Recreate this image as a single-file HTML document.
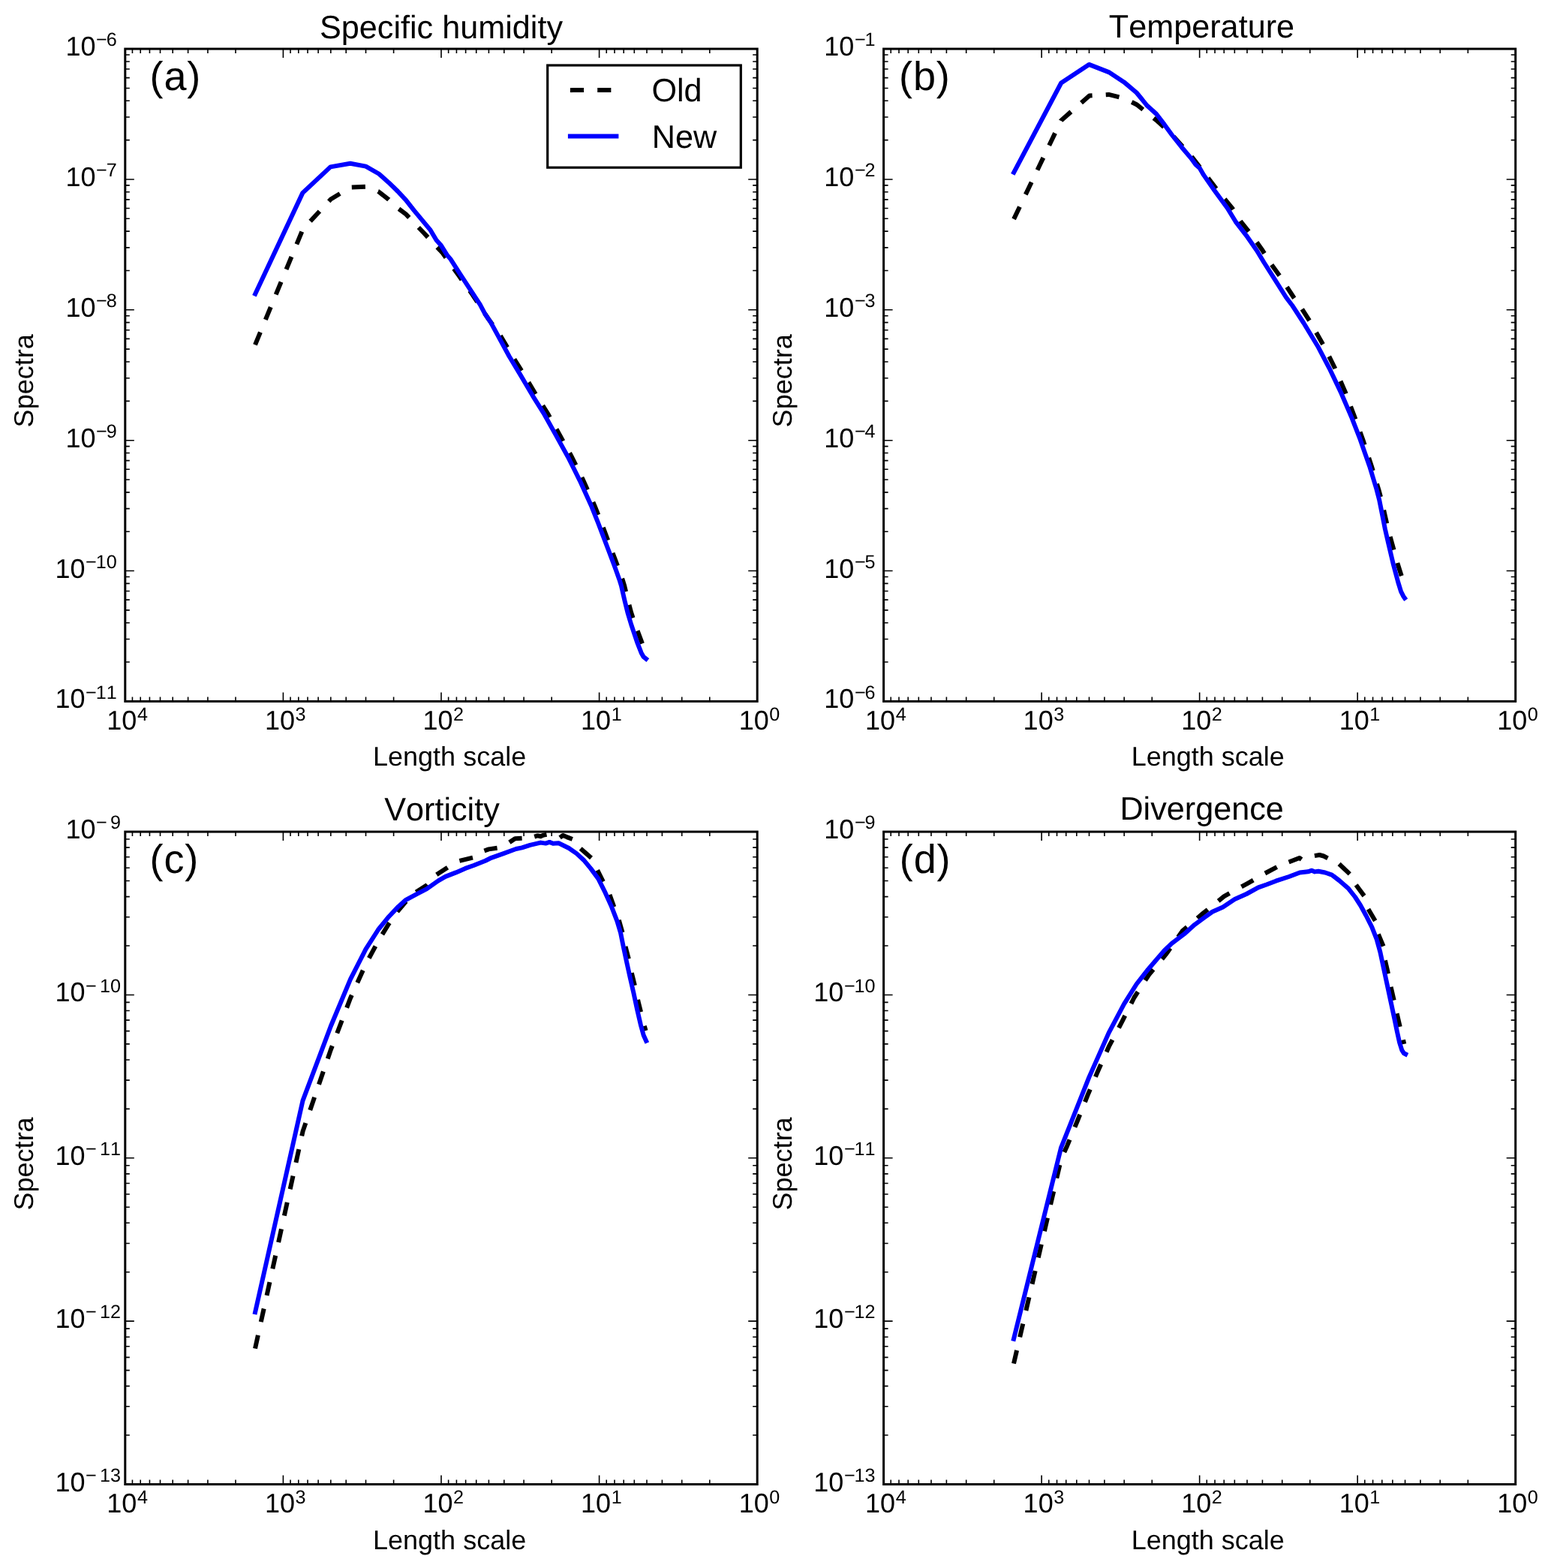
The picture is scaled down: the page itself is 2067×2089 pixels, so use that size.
<!DOCTYPE html>
<html lang="en"><head><meta charset="utf-8"><title>Spectra</title>
<style>html,body{margin:0;padding:0;background:#fff}svg{display:block}text{font-kerning:none;font-variant-ligatures:none;text-rendering:geometricPrecision}</style></head><body>
<svg xmlns="http://www.w3.org/2000/svg" width="2067" height="2089" viewBox="0 0 2067 2089">
<rect width="2067" height="2089" fill="#fff"/>
<g id="panel-a">
<clipPath id="clip-a"><rect x="166.8" y="65.1" width="842.4" height="869.3"/></clipPath>
<g clip-path="url(#clip-a)" fill="none" stroke-linejoin="round">
<g stroke="#000" stroke-width="6" stroke-linecap="butt">
<path d="M340 459.3 L403.6 305.5 L440.7 265.5 L467 249.5 L487.4 248.7 L504.1 255 L518 265.8 L530.2 277.3 L541 285.4 L564.3 309.8 L589.6 336.8 L610.3 365.5 L625.95 387.34" stroke-dasharray="18.112 18.112"/>
<path d="M625.95 387.34 L630 393 L651 425 L666.4 446.4 L683 474.5 L699.1 500.4 L715 527.1 L730.7 552.2 L746.4 580.4 L762 608.7 L777.4 640.1 L792.8 674.6 L801.7 697.1 L814 730 L823.5 755.1 L829.7 772.4 L832.1 780.2 L837 800.6 L841.2 816.3 L846.4 832 L855.3 855.6 L859.8 866 L862 869" stroke-dasharray="18.15 18.15"/>
</g>
<path d="M340.2 391.5 L403.4 256.9 L440.4 222.4 L466.8 217.7 L487.5 221.6 L504.8 231.5 L518 243.2 L530.2 255 L541 266.6 L551.8 280.4 L573.7 306.7 L581.6 320 L587.9 327.1 L595.7 339.7 L600.4 345.1 L613 364.8 L639.7 405.6 L646.7 418.9 L653.8 429.1 L663.2 446.4 L678.5 474.5 L694.1 500.4 L709.8 527.1 L725.5 552.2 L741.2 580.4 L756.9 608.7 L772.6 640.1 L788.3 674.6 L797.3 697.1 L809.8 730 L819.3 755.1 L825.5 772.4 L827.9 780.2 L832.6 800.6 L836.5 816.3 L841.2 832 L849.1 855.6 L854.6 869.7 L857.7 875.2 L861 877.8" stroke="#0000ff" stroke-width="6" stroke-linecap="square"/>
</g>
<path d="M314 934.4L314 928.4M314 65.1L314 71.1M276.92 934.4L276.92 928.4M276.92 65.1L276.92 71.1M250.61 934.4L250.61 928.4M250.61 65.1L250.61 71.1M230.2 934.4L230.2 928.4M230.2 65.1L230.2 71.1M213.52 934.4L213.52 928.4M213.52 65.1L213.52 71.1M199.42 934.4L199.42 928.4M199.42 65.1L199.42 71.1M187.21 934.4L187.21 928.4M187.21 65.1L187.21 71.1M176.44 934.4L176.44 928.4M176.44 65.1L176.44 71.1M377.4 934.4L377.4 922.4M377.4 65.1L377.4 77.1M524.6 934.4L524.6 928.4M524.6 65.1L524.6 71.1M487.52 934.4L487.52 928.4M487.52 65.1L487.52 71.1M461.21 934.4L461.21 928.4M461.21 65.1L461.21 71.1M440.8 934.4L440.8 928.4M440.8 65.1L440.8 71.1M424.12 934.4L424.12 928.4M424.12 65.1L424.12 71.1M410.02 934.4L410.02 928.4M410.02 65.1L410.02 71.1M397.81 934.4L397.81 928.4M397.81 65.1L397.81 71.1M387.04 934.4L387.04 928.4M387.04 65.1L387.04 71.1M588 934.4L588 922.4M588 65.1L588 77.1M735.2 934.4L735.2 928.4M735.2 65.1L735.2 71.1M698.12 934.4L698.12 928.4M698.12 65.1L698.12 71.1M671.81 934.4L671.81 928.4M671.81 65.1L671.81 71.1M651.4 934.4L651.4 928.4M651.4 65.1L651.4 71.1M634.72 934.4L634.72 928.4M634.72 65.1L634.72 71.1M620.62 934.4L620.62 928.4M620.62 65.1L620.62 71.1M608.41 934.4L608.41 928.4M608.41 65.1L608.41 71.1M597.64 934.4L597.64 928.4M597.64 65.1L597.64 71.1M798.6 934.4L798.6 922.4M798.6 65.1L798.6 77.1M945.8 934.4L945.8 928.4M945.8 65.1L945.8 71.1M908.72 934.4L908.72 928.4M908.72 65.1L908.72 71.1M882.41 934.4L882.41 928.4M882.41 65.1L882.41 71.1M862 934.4L862 928.4M862 65.1L862 71.1M845.32 934.4L845.32 928.4M845.32 65.1L845.32 71.1M831.22 934.4L831.22 928.4M831.22 65.1L831.22 71.1M819.01 934.4L819.01 928.4M819.01 65.1L819.01 71.1M808.24 934.4L808.24 928.4M808.24 65.1L808.24 71.1M166.8 186.62L172.8 186.62M1009.2 186.62L1003.2 186.62M166.8 156.01L172.8 156.01M1009.2 156.01L1003.2 156.01M166.8 134.29L172.8 134.29M1009.2 134.29L1003.2 134.29M166.8 117.44L172.8 117.44M1009.2 117.44L1003.2 117.44M166.8 103.67L172.8 103.67M1009.2 103.67L1003.2 103.67M166.8 92.03L172.8 92.03M1009.2 92.03L1003.2 92.03M166.8 81.95L172.8 81.95M1009.2 81.95L1003.2 81.95M166.8 73.06L172.8 73.06M1009.2 73.06L1003.2 73.06M166.8 238.96L178.8 238.96M1009.2 238.96L997.2 238.96M166.8 360.48L172.8 360.48M1009.2 360.48L1003.2 360.48M166.8 329.87L172.8 329.87M1009.2 329.87L1003.2 329.87M166.8 308.15L172.8 308.15M1009.2 308.15L1003.2 308.15M166.8 291.3L172.8 291.3M1009.2 291.3L1003.2 291.3M166.8 277.53L172.8 277.53M1009.2 277.53L1003.2 277.53M166.8 265.89L172.8 265.89M1009.2 265.89L1003.2 265.89M166.8 255.81L172.8 255.81M1009.2 255.81L1003.2 255.81M166.8 246.92L172.8 246.92M1009.2 246.92L1003.2 246.92M166.8 412.82L178.8 412.82M1009.2 412.82L997.2 412.82M166.8 534.34L172.8 534.34M1009.2 534.34L1003.2 534.34M166.8 503.73L172.8 503.73M1009.2 503.73L1003.2 503.73M166.8 482.01L172.8 482.01M1009.2 482.01L1003.2 482.01M166.8 465.16L172.8 465.16M1009.2 465.16L1003.2 465.16M166.8 451.39L172.8 451.39M1009.2 451.39L1003.2 451.39M166.8 439.75L172.8 439.75M1009.2 439.75L1003.2 439.75M166.8 429.67L172.8 429.67M1009.2 429.67L1003.2 429.67M166.8 420.78L172.8 420.78M1009.2 420.78L1003.2 420.78M166.8 586.68L178.8 586.68M1009.2 586.68L997.2 586.68M166.8 708.2L172.8 708.2M1009.2 708.2L1003.2 708.2M166.8 677.59L172.8 677.59M1009.2 677.59L1003.2 677.59M166.8 655.87L172.8 655.87M1009.2 655.87L1003.2 655.87M166.8 639.02L172.8 639.02M1009.2 639.02L1003.2 639.02M166.8 625.25L172.8 625.25M1009.2 625.25L1003.2 625.25M166.8 613.61L172.8 613.61M1009.2 613.61L1003.2 613.61M166.8 603.53L172.8 603.53M1009.2 603.53L1003.2 603.53M166.8 594.64L172.8 594.64M1009.2 594.64L1003.2 594.64M166.8 760.54L178.8 760.54M1009.2 760.54L997.2 760.54M166.8 882.06L172.8 882.06M1009.2 882.06L1003.2 882.06M166.8 851.45L172.8 851.45M1009.2 851.45L1003.2 851.45M166.8 829.73L172.8 829.73M1009.2 829.73L1003.2 829.73M166.8 812.88L172.8 812.88M1009.2 812.88L1003.2 812.88M166.8 799.11L172.8 799.11M1009.2 799.11L1003.2 799.11M166.8 787.47L172.8 787.47M1009.2 787.47L1003.2 787.47M166.8 777.39L172.8 777.39M1009.2 777.39L1003.2 777.39M166.8 768.5L172.8 768.5M1009.2 768.5L1003.2 768.5" stroke="#000" stroke-width="1.6" fill="none"/>
<rect x="166.8" y="65.1" width="842.4" height="869.3" fill="none" stroke="#000" stroke-width="3"/>
<g font-family="Liberation Sans, Arial, Helvetica, sans-serif" fill="#000">
<text x="127.6" y="74.1" font-size="36" text-anchor="end">10</text>
<text x="128.1" y="61.3" font-size="25.2">−</text>
<text x="141.8" y="61.3" font-size="25.2">6</text>
<text x="127.6" y="247.96" font-size="36" text-anchor="end">10</text>
<text x="128.1" y="235.16" font-size="25.2">−</text>
<text x="141.8" y="235.16" font-size="25.2">7</text>
<text x="127.6" y="421.82" font-size="36" text-anchor="end">10</text>
<text x="128.1" y="409.02" font-size="25.2">−</text>
<text x="141.8" y="409.02" font-size="25.2">8</text>
<text x="127.6" y="595.68" font-size="36" text-anchor="end">10</text>
<text x="128.1" y="582.88" font-size="25.2">−</text>
<text x="141.8" y="582.88" font-size="25.2">9</text>
<text x="113.59" y="769.54" font-size="36" text-anchor="end">10</text>
<text x="114.09" y="756.74" font-size="25.2">−</text>
<text x="127.79" y="756.74" font-size="25.2">10</text>
<text x="113.59" y="943.4" font-size="36" text-anchor="end">10</text>
<text x="114.09" y="930.6" font-size="25.2">−</text>
<text x="127.79" y="930.6" font-size="25.2">11</text>
<text x="142.3" y="972.1" font-size="36">10</text>
<text x="182.9" y="959.5" font-size="25.2">4</text>
<text x="352.9" y="972.1" font-size="36">10</text>
<text x="393.5" y="959.5" font-size="25.2">3</text>
<text x="563.5" y="972.1" font-size="36">10</text>
<text x="604.1" y="959.5" font-size="25.2">2</text>
<text x="774.1" y="972.1" font-size="36">10</text>
<text x="814.7" y="959.5" font-size="25.2">1</text>
<text x="984.7" y="972.1" font-size="36">10</text>
<text x="1025.3" y="959.5" font-size="25.2">0</text>
<text x="599.1" y="1020.4" font-size="36" text-anchor="middle">Length scale</text>
<text transform="translate(44.1 507.35) rotate(-90)" font-size="36" text-anchor="middle">Spectra</text>
<text x="588" y="50.6" font-size="43.2" text-anchor="middle">Specific humidity</text>
<text x="199.5" y="120.4" font-size="54" letter-spacing="0.9">(a)</text>
</g>
</g>
<g id="panel-b">
<clipPath id="clip-b"><rect x="1177.6" y="65.1" width="842.1" height="869.3"/></clipPath>
<g clip-path="url(#clip-b)" fill="none" stroke-linejoin="round">
<g stroke="#000" stroke-width="6" stroke-linecap="butt">
<path d="M1351.1 291.9 L1414.2 160.4 L1451.8 127.5 L1477.6 125.9 L1498 130.9 L1514.7 139.2 L1528.8 150.4 L1541 160.1 L1551.8 169.9 L1564.01 182.02" stroke-dasharray="18.15 18.15"/>
<path d="M1564.01 182.02 L1565 183 L1590 211 L1605 230.5 L1623.6 255 L1642.2 277.3 L1653.7 295.3 L1669.9 315.7 L1682.7 333.8 L1692.4 349.5 L1706.5 369.1 L1724.3 396.5 L1732 406.7 L1735.29 411.88" stroke-dasharray="17.944 17.944"/>
<path d="M1735.29 411.88 L1746.7 429.8 L1764.5 461.2 L1779.3 491 L1793.5 524 L1805.8 556.9 L1816.1 585.2 L1827.9 621.2 L1837.4 652.6 L1841 665.7 L1846.3 689.2 L1849.9 704.9 L1855.5 725.3 L1862.9 752 L1868 768 L1872.5 780" stroke-dasharray="18.15 18.15"/>
</g>
<path d="M1351.2 229.7 L1414.2 110.5 L1451.3 85.9 L1477.6 96.1 L1498 109.4 L1514.7 123.5 L1528.8 140.8 L1541 151.8 L1551.8 165.9 L1562 180 L1574.5 195.7 L1587.1 210.6 L1593.4 219.2 L1598.8 223.9 L1604.3 233.4 L1618.5 253.7 L1635.7 277.3 L1646.7 295.3 L1662.4 315.7 L1674.9 333.8 L1684.4 349.5 L1696.9 369.1 L1714.2 396.5 L1722 406.7 L1737.5 430.5 L1756.1 461.2 L1771.8 491 L1787.5 524 L1801.6 556.9 L1812.6 585.2 L1825.2 621.2 L1834.4 651.5 L1838.1 665.7 L1842.8 689.2 L1845.9 704.9 L1850.6 725.3 L1856.9 752 L1863.2 775.5 L1867.1 788.1 L1870.3 794.4 L1872 796.8" stroke="#0000ff" stroke-width="6" stroke-linecap="square"/>
</g>
<path d="M1324.75 934.4L1324.75 928.4M1324.75 65.1L1324.75 71.1M1287.68 934.4L1287.68 928.4M1287.68 65.1L1287.68 71.1M1261.38 934.4L1261.38 928.4M1261.38 65.1L1261.38 71.1M1240.97 934.4L1240.97 928.4M1240.97 65.1L1240.97 71.1M1224.3 934.4L1224.3 928.4M1224.3 65.1L1224.3 71.1M1210.21 934.4L1210.21 928.4M1210.21 65.1L1210.21 71.1M1198 934.4L1198 928.4M1198 65.1L1198 71.1M1187.23 934.4L1187.23 928.4M1187.23 65.1L1187.23 71.1M1388.12 934.4L1388.12 922.4M1388.12 65.1L1388.12 77.1M1535.28 934.4L1535.28 928.4M1535.28 65.1L1535.28 71.1M1498.2 934.4L1498.2 928.4M1498.2 65.1L1498.2 71.1M1471.9 934.4L1471.9 928.4M1471.9 65.1L1471.9 71.1M1451.5 934.4L1451.5 928.4M1451.5 65.1L1451.5 71.1M1434.83 934.4L1434.83 928.4M1434.83 65.1L1434.83 71.1M1420.74 934.4L1420.74 928.4M1420.74 65.1L1420.74 71.1M1408.53 934.4L1408.53 928.4M1408.53 65.1L1408.53 71.1M1397.76 934.4L1397.76 928.4M1397.76 65.1L1397.76 71.1M1598.65 934.4L1598.65 922.4M1598.65 65.1L1598.65 77.1M1745.8 934.4L1745.8 928.4M1745.8 65.1L1745.8 71.1M1708.73 934.4L1708.73 928.4M1708.73 65.1L1708.73 71.1M1682.43 934.4L1682.43 928.4M1682.43 65.1L1682.43 71.1M1662.02 934.4L1662.02 928.4M1662.02 65.1L1662.02 71.1M1645.35 934.4L1645.35 928.4M1645.35 65.1L1645.35 71.1M1631.26 934.4L1631.26 928.4M1631.26 65.1L1631.26 71.1M1619.05 934.4L1619.05 928.4M1619.05 65.1L1619.05 71.1M1608.28 934.4L1608.28 928.4M1608.28 65.1L1608.28 71.1M1809.17 934.4L1809.17 922.4M1809.17 65.1L1809.17 77.1M1956.33 934.4L1956.33 928.4M1956.33 65.1L1956.33 71.1M1919.25 934.4L1919.25 928.4M1919.25 65.1L1919.25 71.1M1892.95 934.4L1892.95 928.4M1892.95 65.1L1892.95 71.1M1872.55 934.4L1872.55 928.4M1872.55 65.1L1872.55 71.1M1855.88 934.4L1855.88 928.4M1855.88 65.1L1855.88 71.1M1841.79 934.4L1841.79 928.4M1841.79 65.1L1841.79 71.1M1829.58 934.4L1829.58 928.4M1829.58 65.1L1829.58 71.1M1818.81 934.4L1818.81 928.4M1818.81 65.1L1818.81 71.1M1177.6 186.62L1183.6 186.62M2019.7 186.62L2013.7 186.62M1177.6 156.01L1183.6 156.01M2019.7 156.01L2013.7 156.01M1177.6 134.29L1183.6 134.29M2019.7 134.29L2013.7 134.29M1177.6 117.44L1183.6 117.44M2019.7 117.44L2013.7 117.44M1177.6 103.67L1183.6 103.67M2019.7 103.67L2013.7 103.67M1177.6 92.03L1183.6 92.03M2019.7 92.03L2013.7 92.03M1177.6 81.95L1183.6 81.95M2019.7 81.95L2013.7 81.95M1177.6 73.06L1183.6 73.06M2019.7 73.06L2013.7 73.06M1177.6 238.96L1189.6 238.96M2019.7 238.96L2007.7 238.96M1177.6 360.48L1183.6 360.48M2019.7 360.48L2013.7 360.48M1177.6 329.87L1183.6 329.87M2019.7 329.87L2013.7 329.87M1177.6 308.15L1183.6 308.15M2019.7 308.15L2013.7 308.15M1177.6 291.3L1183.6 291.3M2019.7 291.3L2013.7 291.3M1177.6 277.53L1183.6 277.53M2019.7 277.53L2013.7 277.53M1177.6 265.89L1183.6 265.89M2019.7 265.89L2013.7 265.89M1177.6 255.81L1183.6 255.81M2019.7 255.81L2013.7 255.81M1177.6 246.92L1183.6 246.92M2019.7 246.92L2013.7 246.92M1177.6 412.82L1189.6 412.82M2019.7 412.82L2007.7 412.82M1177.6 534.34L1183.6 534.34M2019.7 534.34L2013.7 534.34M1177.6 503.73L1183.6 503.73M2019.7 503.73L2013.7 503.73M1177.6 482.01L1183.6 482.01M2019.7 482.01L2013.7 482.01M1177.6 465.16L1183.6 465.16M2019.7 465.16L2013.7 465.16M1177.6 451.39L1183.6 451.39M2019.7 451.39L2013.7 451.39M1177.6 439.75L1183.6 439.75M2019.7 439.75L2013.7 439.75M1177.6 429.67L1183.6 429.67M2019.7 429.67L2013.7 429.67M1177.6 420.78L1183.6 420.78M2019.7 420.78L2013.7 420.78M1177.6 586.68L1189.6 586.68M2019.7 586.68L2007.7 586.68M1177.6 708.2L1183.6 708.2M2019.7 708.2L2013.7 708.2M1177.6 677.59L1183.6 677.59M2019.7 677.59L2013.7 677.59M1177.6 655.87L1183.6 655.87M2019.7 655.87L2013.7 655.87M1177.6 639.02L1183.6 639.02M2019.7 639.02L2013.7 639.02M1177.6 625.25L1183.6 625.25M2019.7 625.25L2013.7 625.25M1177.6 613.61L1183.6 613.61M2019.7 613.61L2013.7 613.61M1177.6 603.53L1183.6 603.53M2019.7 603.53L2013.7 603.53M1177.6 594.64L1183.6 594.64M2019.7 594.64L2013.7 594.64M1177.6 760.54L1189.6 760.54M2019.7 760.54L2007.7 760.54M1177.6 882.06L1183.6 882.06M2019.7 882.06L2013.7 882.06M1177.6 851.45L1183.6 851.45M2019.7 851.45L2013.7 851.45M1177.6 829.73L1183.6 829.73M2019.7 829.73L2013.7 829.73M1177.6 812.88L1183.6 812.88M2019.7 812.88L2013.7 812.88M1177.6 799.11L1183.6 799.11M2019.7 799.11L2013.7 799.11M1177.6 787.47L1183.6 787.47M2019.7 787.47L2013.7 787.47M1177.6 777.39L1183.6 777.39M2019.7 777.39L2013.7 777.39M1177.6 768.5L1183.6 768.5M2019.7 768.5L2013.7 768.5" stroke="#000" stroke-width="1.6" fill="none"/>
<rect x="1177.6" y="65.1" width="842.1" height="869.3" fill="none" stroke="#000" stroke-width="3"/>
<g font-family="Liberation Sans, Arial, Helvetica, sans-serif" fill="#000">
<text x="1138.4" y="74.1" font-size="36" text-anchor="end">10</text>
<text x="1138.9" y="61.3" font-size="25.2">−</text>
<text x="1152.6" y="61.3" font-size="25.2">1</text>
<text x="1138.4" y="247.96" font-size="36" text-anchor="end">10</text>
<text x="1138.9" y="235.16" font-size="25.2">−</text>
<text x="1152.6" y="235.16" font-size="25.2">2</text>
<text x="1138.4" y="421.82" font-size="36" text-anchor="end">10</text>
<text x="1138.9" y="409.02" font-size="25.2">−</text>
<text x="1152.6" y="409.02" font-size="25.2">3</text>
<text x="1138.4" y="595.68" font-size="36" text-anchor="end">10</text>
<text x="1138.9" y="582.88" font-size="25.2">−</text>
<text x="1152.6" y="582.88" font-size="25.2">4</text>
<text x="1138.4" y="769.54" font-size="36" text-anchor="end">10</text>
<text x="1138.9" y="756.74" font-size="25.2">−</text>
<text x="1152.6" y="756.74" font-size="25.2">5</text>
<text x="1138.4" y="943.4" font-size="36" text-anchor="end">10</text>
<text x="1138.9" y="930.6" font-size="25.2">−</text>
<text x="1152.6" y="930.6" font-size="25.2">6</text>
<text x="1153.1" y="972.1" font-size="36">10</text>
<text x="1193.7" y="959.5" font-size="25.2">4</text>
<text x="1363.62" y="972.1" font-size="36">10</text>
<text x="1404.22" y="959.5" font-size="25.2">3</text>
<text x="1574.15" y="972.1" font-size="36">10</text>
<text x="1614.75" y="959.5" font-size="25.2">2</text>
<text x="1784.67" y="972.1" font-size="36">10</text>
<text x="1825.27" y="959.5" font-size="25.2">1</text>
<text x="1995.2" y="972.1" font-size="36">10</text>
<text x="2035.8" y="959.5" font-size="25.2">0</text>
<text x="1609.75" y="1020.4" font-size="36" text-anchor="middle">Length scale</text>
<text transform="translate(1054.9 507.35) rotate(-90)" font-size="36" text-anchor="middle">Spectra</text>
<text x="1601.45" y="50.1" font-size="43.2" text-anchor="middle">Temperature</text>
<text x="1198" y="120.4" font-size="54" letter-spacing="0.9">(b)</text>
</g>
</g>
<g id="panel-c">
<clipPath id="clip-c"><rect x="166.8" y="1108.1" width="842.4" height="869.4"/></clipPath>
<g clip-path="url(#clip-c)" fill="none" stroke-linejoin="round">
<g stroke="#000" stroke-width="6" stroke-linecap="butt">
<path d="M340 1796.6 L403.6 1507.1 L440.7 1398.9 L467 1329.8 L487.4 1284.6 L504.1 1253.7 L518 1231 L530 1214 L545 1196.5 L553.8 1189 L568.5 1179.5 L581.8 1165.3" stroke-dasharray="18.117 18.117"/>
<path d="M581.8 1165.3 L596.5 1155.7"/>
<path d="M612.4 1146.9 L630 1142.7"/>
<path d="M645.4 1133.5 L651.3 1131.4 L662.6 1129.7"/>
<path d="M678.9 1122.2 L686.4 1117.2 L695.6 1116.7"/>
<path d="M712.2 1114.7 L716.5 1113.4 L720.5 1114.3 L724.5 1112.6 L728.5 1111.8"/>
<path d="M746.1 1115.9 L750.3 1113 L755.3 1115.1 L762.8 1118"/>
<path d="M773.7 1130.6 L788 1143.1"/>
<path d="M796.2 1159.3 L803.8 1174.7"/>
<path d="M812.5 1192.1 L818.3 1208.2"/>
<path d="M824.8 1225.8 L829.5 1242.4"/>
<path d="M833.5 1261.1 L837.8 1277.5"/>
<path d="M841.8 1296.1 L845.9 1312.9"/>
<path d="M850 1331.9 L854 1348.3"/>
<path d="M858.7 1366.9 L860.6 1373.1"/>
</g>
<path d="M340.1 1748.2 L403.5 1466.4 L440.7 1367.5 L467 1304.7 L487.4 1264.7 L504.1 1238.5 L518.2 1221.2 L530.8 1207.9 L541 1198.8 L555.9 1190.8 L568.5 1184.4 L584.1 1173.4 L593.6 1167.9 L607.7 1162.4 L620.2 1156.9 L631.2 1153 L646.9 1146.7 L654.8 1142.8 L670.4 1137.3 L687.7 1131 L695.6 1129.4 L706.5 1125.8 L720.5 1122.6 L727.2 1123.6 L732.3 1121.9 L737 1123.8 L744.5 1123.2 L758.2 1130 L768.4 1137.1 L777.8 1145.7 L787.3 1157.1 L797.3 1170.6 L806.7 1189.4 L814.5 1206.7 L822.4 1227.1 L827.1 1242.8 L830.2 1258.5 L834.2 1277.3 L839.7 1302.4 L844.4 1322.8 L849.1 1344.8 L853.8 1365.2 L857.7 1379.3 L861.1 1386.8" stroke="#0000ff" stroke-width="6" stroke-linecap="square"/>
</g>
<path d="M314 1977.5L314 1971.5M314 1108.1L314 1114.1M276.92 1977.5L276.92 1971.5M276.92 1108.1L276.92 1114.1M250.61 1977.5L250.61 1971.5M250.61 1108.1L250.61 1114.1M230.2 1977.5L230.2 1971.5M230.2 1108.1L230.2 1114.1M213.52 1977.5L213.52 1971.5M213.52 1108.1L213.52 1114.1M199.42 1977.5L199.42 1971.5M199.42 1108.1L199.42 1114.1M187.21 1977.5L187.21 1971.5M187.21 1108.1L187.21 1114.1M176.44 1977.5L176.44 1971.5M176.44 1108.1L176.44 1114.1M377.4 1977.5L377.4 1965.5M377.4 1108.1L377.4 1120.1M524.6 1977.5L524.6 1971.5M524.6 1108.1L524.6 1114.1M487.52 1977.5L487.52 1971.5M487.52 1108.1L487.52 1114.1M461.21 1977.5L461.21 1971.5M461.21 1108.1L461.21 1114.1M440.8 1977.5L440.8 1971.5M440.8 1108.1L440.8 1114.1M424.12 1977.5L424.12 1971.5M424.12 1108.1L424.12 1114.1M410.02 1977.5L410.02 1971.5M410.02 1108.1L410.02 1114.1M397.81 1977.5L397.81 1971.5M397.81 1108.1L397.81 1114.1M387.04 1977.5L387.04 1971.5M387.04 1108.1L387.04 1114.1M588 1977.5L588 1965.5M588 1108.1L588 1120.1M735.2 1977.5L735.2 1971.5M735.2 1108.1L735.2 1114.1M698.12 1977.5L698.12 1971.5M698.12 1108.1L698.12 1114.1M671.81 1977.5L671.81 1971.5M671.81 1108.1L671.81 1114.1M651.4 1977.5L651.4 1971.5M651.4 1108.1L651.4 1114.1M634.72 1977.5L634.72 1971.5M634.72 1108.1L634.72 1114.1M620.62 1977.5L620.62 1971.5M620.62 1108.1L620.62 1114.1M608.41 1977.5L608.41 1971.5M608.41 1108.1L608.41 1114.1M597.64 1977.5L597.64 1971.5M597.64 1108.1L597.64 1114.1M798.6 1977.5L798.6 1965.5M798.6 1108.1L798.6 1120.1M945.8 1977.5L945.8 1971.5M945.8 1108.1L945.8 1114.1M908.72 1977.5L908.72 1971.5M908.72 1108.1L908.72 1114.1M882.41 1977.5L882.41 1971.5M882.41 1108.1L882.41 1114.1M862 1977.5L862 1971.5M862 1108.1L862 1114.1M845.32 1977.5L845.32 1971.5M845.32 1108.1L845.32 1114.1M831.22 1977.5L831.22 1971.5M831.22 1108.1L831.22 1114.1M819.01 1977.5L819.01 1971.5M819.01 1108.1L819.01 1114.1M808.24 1977.5L808.24 1971.5M808.24 1108.1L808.24 1114.1M166.8 1260.02L172.8 1260.02M1009.2 1260.02L1003.2 1260.02M166.8 1221.75L172.8 1221.75M1009.2 1221.75L1003.2 1221.75M166.8 1194.59L172.8 1194.59M1009.2 1194.59L1003.2 1194.59M166.8 1173.53L172.8 1173.53M1009.2 1173.53L1003.2 1173.53M166.8 1156.32L172.8 1156.32M1009.2 1156.32L1003.2 1156.32M166.8 1141.77L172.8 1141.77M1009.2 1141.77L1003.2 1141.77M166.8 1129.16L172.8 1129.16M1009.2 1129.16L1003.2 1129.16M166.8 1118.05L172.8 1118.05M1009.2 1118.05L1003.2 1118.05M166.8 1325.45L178.8 1325.45M1009.2 1325.45L997.2 1325.45M166.8 1477.37L172.8 1477.37M1009.2 1477.37L1003.2 1477.37M166.8 1439.1L172.8 1439.1M1009.2 1439.1L1003.2 1439.1M166.8 1411.94L172.8 1411.94M1009.2 1411.94L1003.2 1411.94M166.8 1390.88L172.8 1390.88M1009.2 1390.88L1003.2 1390.88M166.8 1373.67L172.8 1373.67M1009.2 1373.67L1003.2 1373.67M166.8 1359.12L172.8 1359.12M1009.2 1359.12L1003.2 1359.12M166.8 1346.51L172.8 1346.51M1009.2 1346.51L1003.2 1346.51M166.8 1335.4L172.8 1335.4M1009.2 1335.4L1003.2 1335.4M166.8 1542.8L178.8 1542.8M1009.2 1542.8L997.2 1542.8M166.8 1694.72L172.8 1694.72M1009.2 1694.72L1003.2 1694.72M166.8 1656.45L172.8 1656.45M1009.2 1656.45L1003.2 1656.45M166.8 1629.29L172.8 1629.29M1009.2 1629.29L1003.2 1629.29M166.8 1608.23L172.8 1608.23M1009.2 1608.23L1003.2 1608.23M166.8 1591.02L172.8 1591.02M1009.2 1591.02L1003.2 1591.02M166.8 1576.47L172.8 1576.47M1009.2 1576.47L1003.2 1576.47M166.8 1563.86L172.8 1563.86M1009.2 1563.86L1003.2 1563.86M166.8 1552.75L172.8 1552.75M1009.2 1552.75L1003.2 1552.75M166.8 1760.15L178.8 1760.15M1009.2 1760.15L997.2 1760.15M166.8 1912.07L172.8 1912.07M1009.2 1912.07L1003.2 1912.07M166.8 1873.8L172.8 1873.8M1009.2 1873.8L1003.2 1873.8M166.8 1846.64L172.8 1846.64M1009.2 1846.64L1003.2 1846.64M166.8 1825.58L172.8 1825.58M1009.2 1825.58L1003.2 1825.58M166.8 1808.37L172.8 1808.37M1009.2 1808.37L1003.2 1808.37M166.8 1793.82L172.8 1793.82M1009.2 1793.82L1003.2 1793.82M166.8 1781.21L172.8 1781.21M1009.2 1781.21L1003.2 1781.21M166.8 1770.1L172.8 1770.1M1009.2 1770.1L1003.2 1770.1" stroke="#000" stroke-width="1.6" fill="none"/>
<rect x="166.8" y="1108.1" width="842.4" height="869.4" fill="none" stroke="#000" stroke-width="3"/>
<g font-family="Liberation Sans, Arial, Helvetica, sans-serif" fill="#000">
<text x="127.6" y="1117.1" font-size="36" text-anchor="end">10</text>
<text x="128.1" y="1104.3" font-size="25.2">−</text>
<text x="147.1" y="1104.3" font-size="25.2">9</text>
<text x="113.59" y="1334.45" font-size="36" text-anchor="end">10</text>
<text x="114.09" y="1321.65" font-size="25.2">−</text>
<text x="133.09" y="1321.65" font-size="25.2">10</text>
<text x="113.59" y="1551.8" font-size="36" text-anchor="end">10</text>
<text x="114.09" y="1539" font-size="25.2">−</text>
<text x="133.09" y="1539" font-size="25.2">11</text>
<text x="113.59" y="1769.15" font-size="36" text-anchor="end">10</text>
<text x="114.09" y="1756.35" font-size="25.2">−</text>
<text x="133.09" y="1756.35" font-size="25.2">12</text>
<text x="113.59" y="1986.5" font-size="36" text-anchor="end">10</text>
<text x="114.09" y="1973.7" font-size="25.2">−</text>
<text x="133.09" y="1973.7" font-size="25.2">13</text>
<text x="142.3" y="2015.2" font-size="36">10</text>
<text x="182.9" y="2002.6" font-size="25.2">4</text>
<text x="352.9" y="2015.2" font-size="36">10</text>
<text x="393.5" y="2002.6" font-size="25.2">3</text>
<text x="563.5" y="2015.2" font-size="36">10</text>
<text x="604.1" y="2002.6" font-size="25.2">2</text>
<text x="774.1" y="2015.2" font-size="36">10</text>
<text x="814.7" y="2002.6" font-size="25.2">1</text>
<text x="984.7" y="2015.2" font-size="36">10</text>
<text x="1025.3" y="2002.6" font-size="25.2">0</text>
<text x="599.1" y="2063.5" font-size="36" text-anchor="middle">Length scale</text>
<text transform="translate(44.1 1550.4) rotate(-90)" font-size="36" text-anchor="middle">Spectra</text>
<text x="589" y="1092.9" font-size="43.2" text-anchor="middle">Vorticity</text>
<text x="199.5" y="1163.4" font-size="54" letter-spacing="0.9">(c)</text>
</g>
</g>
<g id="panel-d">
<clipPath id="clip-d"><rect x="1177.6" y="1108.1" width="842.1" height="869.4"/></clipPath>
<g clip-path="url(#clip-d)" fill="none" stroke-linejoin="round">
<g stroke="#000" stroke-width="6" stroke-linecap="butt">
<path d="M1351 1816.6 L1414.2 1544 L1422.1 1526.7 L1436 1493 L1449.4 1459.3 L1463.5 1426.3 L1478.4 1393.1 L1495.3 1361.2 L1511.5 1329 L1531 1298.8 L1554.3 1270.9 L1575.7 1240.4 L1603.2 1216.9 L1631.4 1194.1 L1662.8 1176.9 L1685.96 1163.58" stroke-dasharray="18.107 18.107"/>
<path d="M1685.9 1163.5 L1701.7 1155.1"/>
<path d="M1717.6 1148.5 L1731.8 1143 L1734.6 1145"/>
<path d="M1751.9 1140.1 L1758.5 1139 L1764 1140.5 L1769.5 1143.3"/>
<path d="M1784.6 1151 L1798.8 1164.4"/>
<path d="M1807.2 1179 L1818 1193.6"/>
<path d="M1823.5 1211.2 L1832.7 1226.7"/>
<path d="M1836.9 1244.7 L1843.6 1260.6"/>
<path d="M1845.9 1279.5 L1850 1297.2"/>
<path d="M1853.6 1314.9 L1857.7 1332.6"/>
<path d="M1861.6 1350.2 L1865.7 1367.9"/>
<path d="M1870 1385.4 L1871.3 1390.9"/>
</g>
<path d="M1351 1783.8 L1414 1529.2 L1451.3 1435.4 L1477.6 1376.1 L1498 1337.7 L1514.7 1311 L1528.8 1293 L1541 1278.8 L1551.6 1266.5 L1561.6 1256.9 L1578.1 1244.4 L1592.2 1231.8 L1604.7 1222.6 L1615.7 1214.8 L1629.8 1208.5 L1645.5 1198.1 L1661.2 1191 L1676.9 1182.4 L1687.9 1178.5 L1700.4 1173.7 L1717.7 1168 L1732.2 1162.5 L1743.2 1161.3 L1748.2 1159.7 L1752.2 1161.4 L1756.9 1160.7 L1766 1162.5 L1775 1165.6 L1784.7 1173 L1796.5 1183.2 L1805.9 1195 L1813 1206 L1820.4 1219.5 L1828.3 1235.1 L1834.5 1250.8 L1839.3 1268.1 L1844 1290.1 L1848.7 1312 L1853.4 1334 L1858.1 1356 L1862 1374.8 L1865.1 1388.9 L1868.3 1399.1 L1871 1403.3 L1873.2 1404.4" stroke="#0000ff" stroke-width="6" stroke-linecap="square"/>
</g>
<path d="M1324.75 1977.5L1324.75 1971.5M1324.75 1108.1L1324.75 1114.1M1287.68 1977.5L1287.68 1971.5M1287.68 1108.1L1287.68 1114.1M1261.38 1977.5L1261.38 1971.5M1261.38 1108.1L1261.38 1114.1M1240.97 1977.5L1240.97 1971.5M1240.97 1108.1L1240.97 1114.1M1224.3 1977.5L1224.3 1971.5M1224.3 1108.1L1224.3 1114.1M1210.21 1977.5L1210.21 1971.5M1210.21 1108.1L1210.21 1114.1M1198 1977.5L1198 1971.5M1198 1108.1L1198 1114.1M1187.23 1977.5L1187.23 1971.5M1187.23 1108.1L1187.23 1114.1M1388.12 1977.5L1388.12 1965.5M1388.12 1108.1L1388.12 1120.1M1535.28 1977.5L1535.28 1971.5M1535.28 1108.1L1535.28 1114.1M1498.2 1977.5L1498.2 1971.5M1498.2 1108.1L1498.2 1114.1M1471.9 1977.5L1471.9 1971.5M1471.9 1108.1L1471.9 1114.1M1451.5 1977.5L1451.5 1971.5M1451.5 1108.1L1451.5 1114.1M1434.83 1977.5L1434.83 1971.5M1434.83 1108.1L1434.83 1114.1M1420.74 1977.5L1420.74 1971.5M1420.74 1108.1L1420.74 1114.1M1408.53 1977.5L1408.53 1971.5M1408.53 1108.1L1408.53 1114.1M1397.76 1977.5L1397.76 1971.5M1397.76 1108.1L1397.76 1114.1M1598.65 1977.5L1598.65 1965.5M1598.65 1108.1L1598.65 1120.1M1745.8 1977.5L1745.8 1971.5M1745.8 1108.1L1745.8 1114.1M1708.73 1977.5L1708.73 1971.5M1708.73 1108.1L1708.73 1114.1M1682.43 1977.5L1682.43 1971.5M1682.43 1108.1L1682.43 1114.1M1662.02 1977.5L1662.02 1971.5M1662.02 1108.1L1662.02 1114.1M1645.35 1977.5L1645.35 1971.5M1645.35 1108.1L1645.35 1114.1M1631.26 1977.5L1631.26 1971.5M1631.26 1108.1L1631.26 1114.1M1619.05 1977.5L1619.05 1971.5M1619.05 1108.1L1619.05 1114.1M1608.28 1977.5L1608.28 1971.5M1608.28 1108.1L1608.28 1114.1M1809.17 1977.5L1809.17 1965.5M1809.17 1108.1L1809.17 1120.1M1956.33 1977.5L1956.33 1971.5M1956.33 1108.1L1956.33 1114.1M1919.25 1977.5L1919.25 1971.5M1919.25 1108.1L1919.25 1114.1M1892.95 1977.5L1892.95 1971.5M1892.95 1108.1L1892.95 1114.1M1872.55 1977.5L1872.55 1971.5M1872.55 1108.1L1872.55 1114.1M1855.88 1977.5L1855.88 1971.5M1855.88 1108.1L1855.88 1114.1M1841.79 1977.5L1841.79 1971.5M1841.79 1108.1L1841.79 1114.1M1829.58 1977.5L1829.58 1971.5M1829.58 1108.1L1829.58 1114.1M1818.81 1977.5L1818.81 1971.5M1818.81 1108.1L1818.81 1114.1M1177.6 1260.02L1183.6 1260.02M2019.7 1260.02L2013.7 1260.02M1177.6 1221.75L1183.6 1221.75M2019.7 1221.75L2013.7 1221.75M1177.6 1194.59L1183.6 1194.59M2019.7 1194.59L2013.7 1194.59M1177.6 1173.53L1183.6 1173.53M2019.7 1173.53L2013.7 1173.53M1177.6 1156.32L1183.6 1156.32M2019.7 1156.32L2013.7 1156.32M1177.6 1141.77L1183.6 1141.77M2019.7 1141.77L2013.7 1141.77M1177.6 1129.16L1183.6 1129.16M2019.7 1129.16L2013.7 1129.16M1177.6 1118.05L1183.6 1118.05M2019.7 1118.05L2013.7 1118.05M1177.6 1325.45L1189.6 1325.45M2019.7 1325.45L2007.7 1325.45M1177.6 1477.37L1183.6 1477.37M2019.7 1477.37L2013.7 1477.37M1177.6 1439.1L1183.6 1439.1M2019.7 1439.1L2013.7 1439.1M1177.6 1411.94L1183.6 1411.94M2019.7 1411.94L2013.7 1411.94M1177.6 1390.88L1183.6 1390.88M2019.7 1390.88L2013.7 1390.88M1177.6 1373.67L1183.6 1373.67M2019.7 1373.67L2013.7 1373.67M1177.6 1359.12L1183.6 1359.12M2019.7 1359.12L2013.7 1359.12M1177.6 1346.51L1183.6 1346.51M2019.7 1346.51L2013.7 1346.51M1177.6 1335.4L1183.6 1335.4M2019.7 1335.4L2013.7 1335.4M1177.6 1542.8L1189.6 1542.8M2019.7 1542.8L2007.7 1542.8M1177.6 1694.72L1183.6 1694.72M2019.7 1694.72L2013.7 1694.72M1177.6 1656.45L1183.6 1656.45M2019.7 1656.45L2013.7 1656.45M1177.6 1629.29L1183.6 1629.29M2019.7 1629.29L2013.7 1629.29M1177.6 1608.23L1183.6 1608.23M2019.7 1608.23L2013.7 1608.23M1177.6 1591.02L1183.6 1591.02M2019.7 1591.02L2013.7 1591.02M1177.6 1576.47L1183.6 1576.47M2019.7 1576.47L2013.7 1576.47M1177.6 1563.86L1183.6 1563.86M2019.7 1563.86L2013.7 1563.86M1177.6 1552.75L1183.6 1552.75M2019.7 1552.75L2013.7 1552.75M1177.6 1760.15L1189.6 1760.15M2019.7 1760.15L2007.7 1760.15M1177.6 1912.07L1183.6 1912.07M2019.7 1912.07L2013.7 1912.07M1177.6 1873.8L1183.6 1873.8M2019.7 1873.8L2013.7 1873.8M1177.6 1846.64L1183.6 1846.64M2019.7 1846.64L2013.7 1846.64M1177.6 1825.58L1183.6 1825.58M2019.7 1825.58L2013.7 1825.58M1177.6 1808.37L1183.6 1808.37M2019.7 1808.37L2013.7 1808.37M1177.6 1793.82L1183.6 1793.82M2019.7 1793.82L2013.7 1793.82M1177.6 1781.21L1183.6 1781.21M2019.7 1781.21L2013.7 1781.21M1177.6 1770.1L1183.6 1770.1M2019.7 1770.1L2013.7 1770.1" stroke="#000" stroke-width="1.6" fill="none"/>
<rect x="1177.6" y="1108.1" width="842.1" height="869.4" fill="none" stroke="#000" stroke-width="3"/>
<g font-family="Liberation Sans, Arial, Helvetica, sans-serif" fill="#000">
<text x="1138.4" y="1117.1" font-size="36" text-anchor="end">10</text>
<text x="1138.9" y="1104.3" font-size="25.2">−</text>
<text x="1152.6" y="1104.3" font-size="25.2">9</text>
<text x="1124.39" y="1334.45" font-size="36" text-anchor="end">10</text>
<text x="1124.89" y="1321.65" font-size="25.2">−</text>
<text x="1138.59" y="1321.65" font-size="25.2">10</text>
<text x="1124.39" y="1551.8" font-size="36" text-anchor="end">10</text>
<text x="1124.89" y="1539" font-size="25.2">−</text>
<text x="1138.59" y="1539" font-size="25.2">11</text>
<text x="1124.39" y="1769.15" font-size="36" text-anchor="end">10</text>
<text x="1124.89" y="1756.35" font-size="25.2">−</text>
<text x="1138.59" y="1756.35" font-size="25.2">12</text>
<text x="1124.39" y="1986.5" font-size="36" text-anchor="end">10</text>
<text x="1124.89" y="1973.7" font-size="25.2">−</text>
<text x="1138.59" y="1973.7" font-size="25.2">13</text>
<text x="1153.1" y="2015.2" font-size="36">10</text>
<text x="1193.7" y="2002.6" font-size="25.2">4</text>
<text x="1363.62" y="2015.2" font-size="36">10</text>
<text x="1404.22" y="2002.6" font-size="25.2">3</text>
<text x="1574.15" y="2015.2" font-size="36">10</text>
<text x="1614.75" y="2002.6" font-size="25.2">2</text>
<text x="1784.67" y="2015.2" font-size="36">10</text>
<text x="1825.27" y="2002.6" font-size="25.2">1</text>
<text x="1995.2" y="2015.2" font-size="36">10</text>
<text x="2035.8" y="2002.6" font-size="25.2">0</text>
<text x="1609.75" y="2063.5" font-size="36" text-anchor="middle">Length scale</text>
<text transform="translate(1054.9 1550.4) rotate(-90)" font-size="36" text-anchor="middle">Spectra</text>
<text x="1601.65" y="1091.6" font-size="43.2" text-anchor="middle">Divergence</text>
<text x="1198.8" y="1163.1" font-size="54" letter-spacing="0.9">(d)</text>
</g>
</g>
<g id="legend" font-family="Liberation Sans, Arial, Helvetica, sans-serif">
<rect x="729.7" y="87" width="257.6" height="136.2" fill="#fff" stroke="#000" stroke-width="3.2"/>
<path d="M759.9 120.1H821.4" stroke="#000" stroke-width="6" stroke-dasharray="18.15 18.15" fill="none"/>
<path d="M759.9 181.5H821.4" stroke="#0000ff" stroke-width="6" stroke-linecap="square" fill="none"/>
<text x="868.4" y="135" font-size="43.2">Old</text>
<text x="868.8" y="196.7" font-size="43.2">New</text>
</g>
</svg></body></html>
